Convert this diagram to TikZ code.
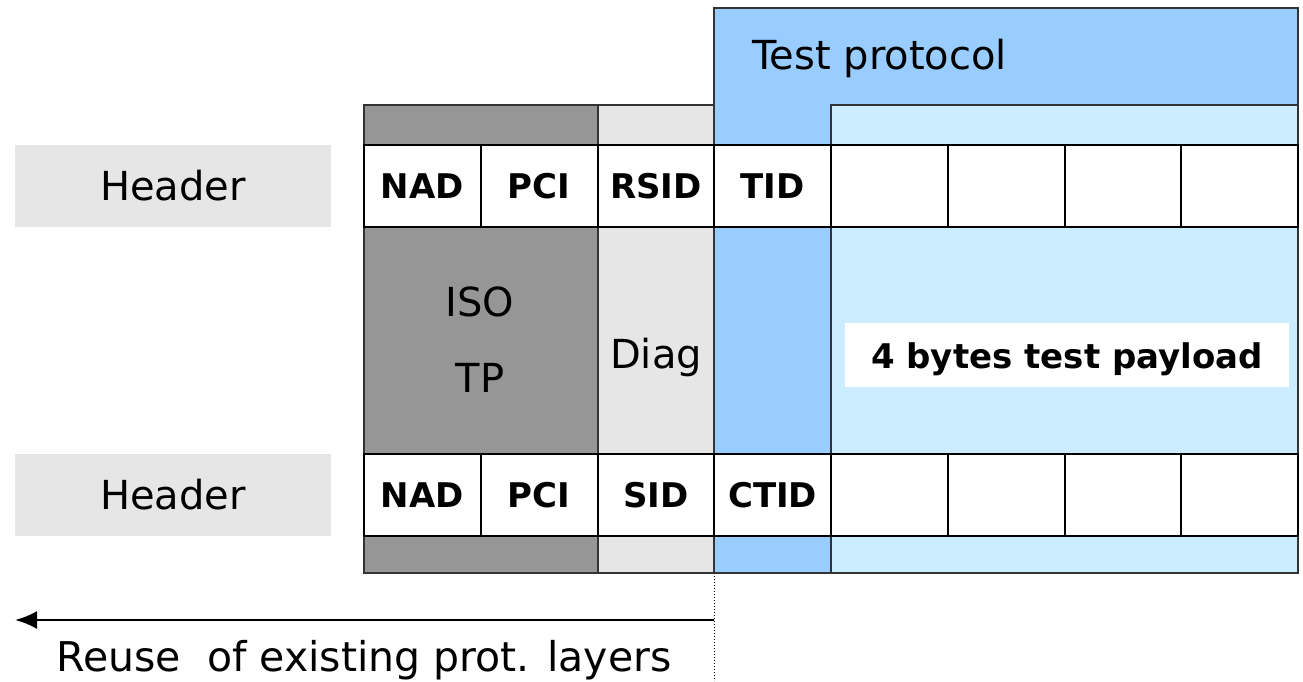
\documentclass[tikz,border=0pt]{standalone}
\usepackage{fontspec}
\setmainfont{DejaVu Sans}
\usepackage{xcolor}
\usetikzlibrary{arrows.meta}
\definecolor{isogray}{HTML}{969696}
\definecolor{diaggray}{HTML}{E6E6E6}
\definecolor{testblue}{HTML}{99CCFF}
\definecolor{payblue}{HTML}{CCECFF}
\tikzset{
  area/.style={draw=black!80, line width=1.2pt},
  cell/.style={draw=black, line width=2pt, fill=white, minimum width=116.75pt,
    minimum height=82pt, inner sep=0pt, font=\fontsize{34}{40}\selectfont\bfseries},
  hdrbox/.style={fill=diaggray, minimum width=316pt, minimum height=82pt,
    inner sep=0pt, font=\fontsize{40}{46}\selectfont},
  txt/.style={inner sep=0pt, font=\fontsize{40}{46}\selectfont},
  boldtxt/.style={inner sep=0pt, font=\fontsize{34}{40}\selectfont\bfseries}
}

\begin{document}
\begin{tikzpicture}[x=1pt, y=-1pt]
\useasboundingbox (0,0) rectangle (1303,681);

% layer areas
\draw [area, fill=isogray] (364,105) rectangle (598,573);
\draw [area, fill=diaggray] (598,105) rectangle (714,573);
\draw [area, fill=testblue] (714,8) rectangle (1298,573);
\draw [area, fill=payblue] (831,105) rectangle (1298,573);

% request and response frames
\foreach \lbl [count=\i from 0] in {NAD,PCI,RSID,TID,{},{},{},{}}
  \node [cell] (req\i) at (422.4+\i*116.75, 186) {\lbl};
\foreach \lbl [count=\i from 0] in {NAD,PCI,SID,CTID,{},{},{},{}}
  \node [cell] (resp\i) at (422.4+\i*116.75, 495) {\lbl};

\node [hdrbox] (hdr1) at (173,186) {Header};
\node [hdrbox] (hdr2) at (173,495) {Header};

% layer names
\node [txt, anchor=base west] (testname) at (752,69) {Test protocol};
\node [txt, anchor=base] (isoname) at (480,316) {ISO};
\node [txt, anchor=base] (tpname) at (480,392) {TP};
\node [txt, anchor=base] (diagname) at (656,368) {Diag};

\node [fill=white, minimum width=444pt, minimum height=64pt] (payload) at (1067,355) {};
\node [boldtxt, anchor=base] (paytxt) at (payload.center |- 0,368) {4 bytes test payload};

% reuse arrow
\coordinate (splittop) at (714,573);
\coordinate (splitbot) at (714,681);
\coordinate (split) at (714,620);
\coordinate (reuseend) at (15,620);
\draw [dotted, line width=1pt] (splittop) -- (splitbot);
\draw [line width=2.5pt, -{Latex[length=22pt,width=18pt]}] (split) -- (reuseend);
\node [txt, anchor=base, font=\fontsize{41}{46}\selectfont] (reuse) at (364,671) {Reuse\ \ of existing prot. layers};

\end{tikzpicture}
\end{document}
